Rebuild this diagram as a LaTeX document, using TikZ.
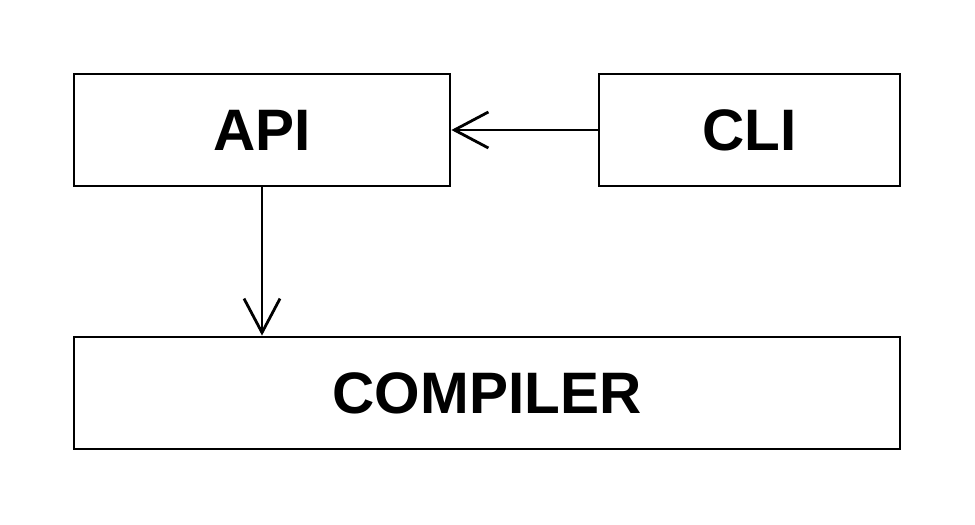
\documentclass[tikz,border=0pt]{standalone}
\usepackage{fontspec}
\setmainfont{Liberation Sans}
\usetikzlibrary{arrows.meta}
\tikzset{
  modbox/.style={draw, line width=2.8pt, inner sep=0pt, minimum height=112pt, font=\fontsize{58.5}{62}\selectfont\bfseries},
  dep/.style={line width=2.8pt, -{Straight Barb[length=34pt, width=36pt, line width=2.8pt]}}
}
\begin{document}
\begin{tikzpicture}[x=1pt, y=1pt]
  \useasboundingbox (0,0) rectangle (975,525);
  \node [modbox, minimum width=376pt] (api) at (262,395) {API};
  \node [modbox, minimum width=301pt] (cli) at (749.5,395) {CLI};
  \node [modbox, minimum width=826pt] (compiler) at (487,132) {COMPILER};
  \draw [dep] (cli.west) -- (api.east);
  \draw [dep] (api.south) -- (api.south |- compiler.north);
\end{tikzpicture}
\end{document}
